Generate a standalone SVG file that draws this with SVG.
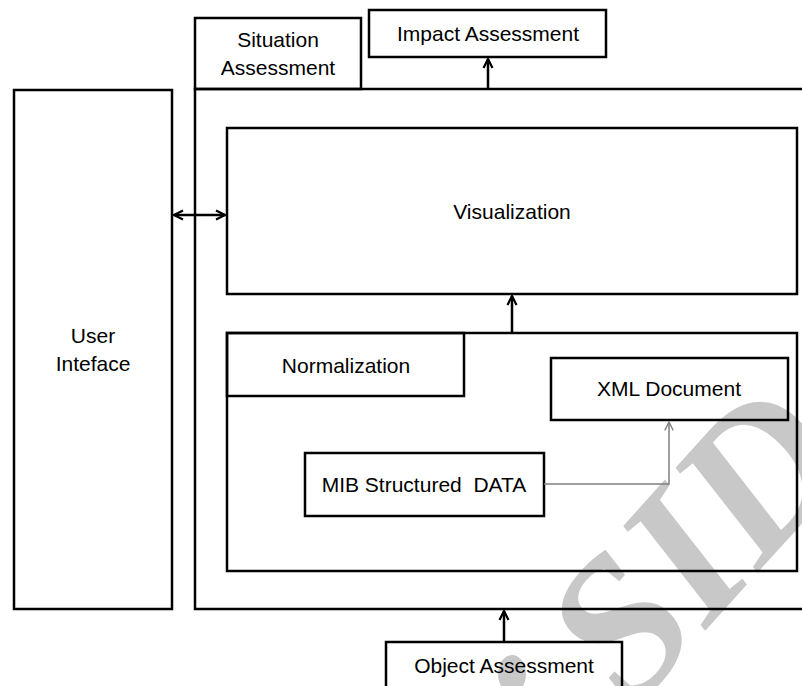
<svg xmlns="http://www.w3.org/2000/svg" width="802" height="686" viewBox="0 0 802 686">
  <style>
    .box { fill: none; stroke: #000000; stroke-width: 2.5; }
    .lbl { font-family: "Liberation Sans", Arial, sans-serif; font-size: 21px; fill: #000000; text-anchor: middle; }
    .link { fill: none; stroke: #000000; stroke-width: 2.5; }
    .thin { fill: none; stroke: #808080; stroke-width: 1.5; }
    .mark { font-family: "Liberation Serif", "Times New Roman", serif; font-style: italic; font-weight: bold; font-size: 200px; fill: #c8c8c8; }
  </style>
  <defs>
    <marker id="head" viewBox="0 0 10 10" refX="9" refY="5" markerWidth="4.5" markerHeight="4.5" orient="auto-start-reverse" markerUnits="strokeWidth">
      <path d="M1,1 L9,5 L1,9" fill="none" stroke="#000000" stroke-width="2"/>
    </marker>
    <marker id="headThin" viewBox="0 0 10 10" refX="9" refY="5" markerWidth="7" markerHeight="7" orient="auto" markerUnits="strokeWidth">
      <path d="M1,1 L9,5 L1,9" fill="none" stroke="#808080" stroke-width="1.3"/>
    </marker>
  </defs>

  <rect x="0" y="0" width="802" height="686" fill="#ffffff"/>

  <!-- faint publisher mark, sits under the outlines -->
  <g id="mark">
    <text class="mark" transform="translate(632,712) rotate(-48)">SID</text>
    <ellipse cx="512" cy="674" rx="14" ry="19" fill="#c8c8c8"/>
  </g>

  <!-- outer situation-assessment frame (runs off the right edge) -->
  <g id="situation-frame">
    <path class="box" d="M804,89 H195 V609 H804"/>
  </g>

  <g id="situation-tab">
    <rect class="box" x="195" y="18" width="166" height="71"/>
    <text class="lbl" x="278" y="47">Situation</text>
    <text class="lbl" x="278" y="75">Assessment</text>
  </g>

  <g id="user-interface">
    <rect class="box" x="14" y="90" width="158" height="519"/>
    <text class="lbl" x="93" y="343">User</text>
    <text class="lbl" x="93" y="371">Inteface</text>
  </g>

  <g id="impact-assessment">
    <rect class="box" x="369" y="10" width="237" height="47"/>
    <text class="lbl" x="488" y="41">Impact Assessment</text>
  </g>

  <g id="visualization">
    <rect class="box" x="227" y="128" width="570" height="166"/>
    <text class="lbl" x="512" y="219">Visualization</text>
  </g>

  <g id="normalization">
    <rect class="box" x="227" y="333" width="570" height="238"/>
    <rect class="box" x="227" y="333" width="237" height="63"/>
    <text class="lbl" x="346" y="373">Normalization</text>
  </g>

  <g id="xml-document">
    <rect class="box" x="551" y="358" width="237" height="62"/>
    <text class="lbl" x="669" y="396">XML Document</text>
  </g>

  <g id="mib-data">
    <rect class="box" x="305" y="453" width="239" height="63"/>
    <text class="lbl" x="424" y="492">MIB Structured&#160; DATA</text>
  </g>

  <g id="object-assessment">
    <path class="box" d="M386,690 V642 H622 V690"/>
    <text class="lbl" x="504" y="673">Object Assessment</text>
  </g>

  <g id="connectors">
    <line class="link" x1="488" y1="89" x2="488" y2="59" marker-end="url(#head)"/>
    <line class="link" x1="174" y1="215" x2="225" y2="215" marker-start="url(#head)" marker-end="url(#head)"/>
    <line class="link" x1="512" y1="333" x2="512" y2="296" marker-end="url(#head)"/>
    <line class="link" x1="504" y1="642" x2="504" y2="611" marker-end="url(#head)"/>
    <path class="thin" d="M544,484 H669 V422" marker-end="url(#headThin)"/>
  </g>
</svg>
